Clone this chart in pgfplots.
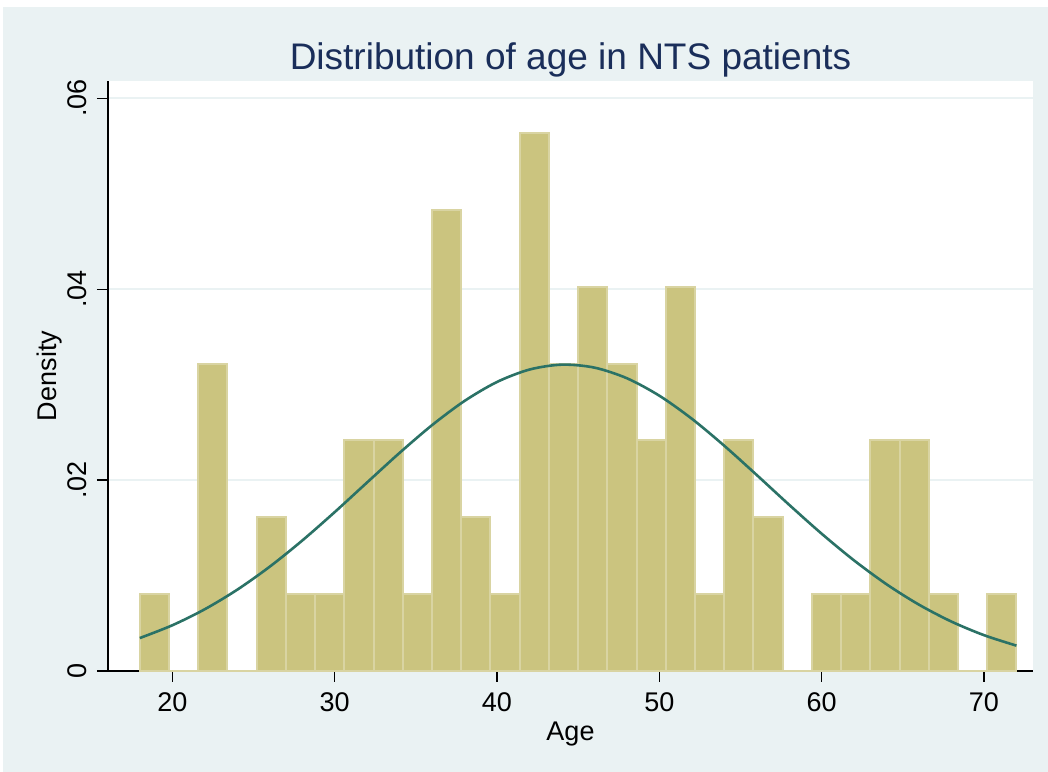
\documentclass[border=0pt]{standalone}
\usepackage{pgfplots}
\pgfplotsset{compat=1.18}
\usepackage{fontspec}
\setmainfont{Liberation Sans}
\definecolor{bgblue}{HTML}{EAF2F3}
\definecolor{barfill}{HTML}{CBC47F}
\definecolor{barline}{HTML}{D9D4A2}
\definecolor{curvec}{HTML}{2B7266}
\definecolor{titlec}{HTML}{1A2E5A}
\begin{document}
\begin{tikzpicture}
\fill[white] (0,0) rectangle (524bp,386bp);
\fill[bgblue] (1.5bp,0) rectangle (524bp,382.5bp);
\begin{axis}[
  at={(54bp,50.5bp)}, anchor=south west,
  scale only axis, width=462.5bp, height=295bp,
  xmin=16.04, xmax=73.02, ymin=0, ymax=0.0618,
  axis x line*=bottom, axis y line*=left,
  axis line style={black, line width=0.7bp, -},
  axis background/.style={fill=white},
  scaled y ticks=false,
  xtick={20,30,40,50,60,70},
  xticklabels={20,30,40,50,60,70},
  ytick={0,0.02,0.04,0.06},
  yticklabels={0,.02,.04,.06},
  tick align=outside, major tick length=5.5bp,
  tick style={black, line width=0.6bp},
  ymajorgrids,
  grid style={bgblue, line width=1bp},
  ticklabel style={font=\fontsize{13.5bp}{15bp}\selectfont, text=black},
  yticklabel style={rotate=90, anchor=south},
  yticklabel shift=1.5bp,
  xticklabel style={yshift=-2bp},
  xlabel={Age}, ylabel={Density},
  label style={font=\fontsize{13.5bp}{15bp}\selectfont},
  xlabel style={at={(axis description cs:0.5,0)}, anchor=north, yshift=-22bp},
  ylabel style={at={(axis description cs:-0.042,0.5)}, anchor=south},
  title={Distribution of age in NTS patients},
  title style={font=\fontsize{18.5bp}{21bp}\selectfont, text=titlec, at={(axis description cs:0.5,1)}, anchor=base, yshift=0bp},
  clip=false,
]
\addplot[ybar interval, fill=barfill, draw=barline, line width=1bp] coordinates {
(18.0,0.008052) (19.8,0) (21.6,0.032206) (23.4,0) (25.2,0.016103)
(27.0,0.008052) (28.8,0.008052) (30.6,0.024155) (32.4,0.024155) (34.2,0.008052)
(36.0,0.048309) (37.8,0.016103) (39.6,0.008052) (41.4,0.056361) (43.2,0.032206)
(45.0,0.040258) (46.8,0.032206) (48.6,0.024155) (50.4,0.040258) (52.2,0.008052)
(54.0,0.024155) (55.8,0.016103) (57.6,0) (59.4,0.008052) (61.2,0.008052)
(63.0,0.024155) (64.8,0.024155) (66.6,0.008052) (68.4,0) (70.2,0.008052)
(72.0,0.008052)
};
\addplot[smooth, color=curvec, line width=1.3bp] coordinates {
(18,0.003451) (20,0.004787) (22,0.006467) (24,0.008514) (26,0.010923)
(28,0.013656) (30,0.016636) (32,0.019749) (34,0.022844) (36,0.025750)
(38,0.028284) (40,0.030273) (42,0.031573) (44,0.032089) (46,0.031779)
(48,0.030667) (50,0.028838) (52,0.026426) (54,0.023596) (56,0.020532)
(58,0.017407) (60,0.014381) (62,0.011578) (64,0.009083) (66,0.006943)
(68,0.005172) (70,0.003754) (72,0.002656)
};
\end{axis}
\pgfresetboundingbox
\useasboundingbox (0,0) rectangle (524bp,386bp);
\end{tikzpicture}
\end{document}
